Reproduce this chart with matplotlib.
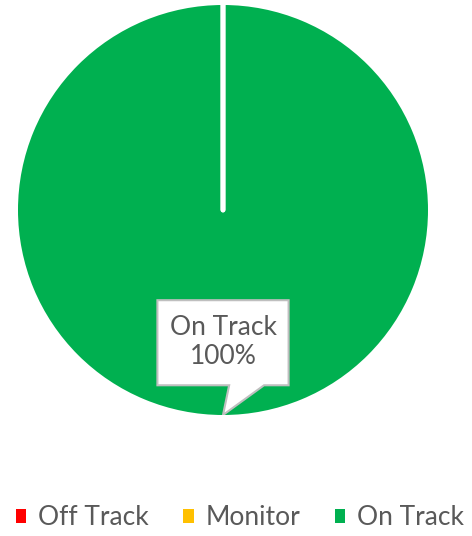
import matplotlib.pyplot as plt
from matplotlib.patches import Polygon, Patch

# Data
categories = ['Off Track', 'Monitor', 'On Track']
values = [0, 0, 100]
colors = ['#FF0000', '#FFC000', '#00B050']

plt.rcParams['font.family'] = ['Lato', 'DejaVu Sans']
text_color = '#595959'

fig = plt.figure(figsize=(4.72, 5.36), dpi=100)
ax = fig.add_axes([18 / 472, 121 / 536, 410 / 472, 410 / 536])

wedges, _ = ax.pie(values, colors=colors, startangle=90, counterclock=False,
                   radius=1, wedgeprops=dict(edgecolor='white', linewidth=3.5))
# zero-size slices only show as the white border line
for w, v in zip(wedges, values):
    if v == 0:
        w.set_zorder(4)
        w.set_capstyle('round')
    else:
        w.set_edgecolor('none')
ax.set_xlim(-1, 1)
ax.set_ylim(-1, 1)
ax.set_aspect('equal')
ax.axis('off')

# Callout for the only non-zero slice
total = sum(values)
pct = values[2] / total * 100
box = [(-0.32, -0.44), (0.32, -0.44), (0.32, -0.855), (0.2, -0.855),
       (0.0, -1.0), (0.03, -0.855), (-0.32, -0.855)]
ax.add_patch(Polygon(box, closed=True, facecolor='white', edgecolor='#BFBFBF',
                     linewidth=1.5, zorder=5))
ax.text(0, -0.645, f'{categories[2]}\n{pct:.0f}%', ha='center', va='center',
        fontsize=19, color=text_color, linespacing=1.2, zorder=6)

handles = [Patch(facecolor=c, edgecolor='none') for c in colors]
fig.legend(handles, categories, loc='center', bbox_to_anchor=(0.508, 0.034),
           ncol=3, frameon=False, fontsize=19, labelcolor=text_color,
           handlelength=0.4, handleheight=0.4, handletextpad=0.45,
           columnspacing=1.3, borderpad=0)

fig.savefig('out.png', dpi=100)
